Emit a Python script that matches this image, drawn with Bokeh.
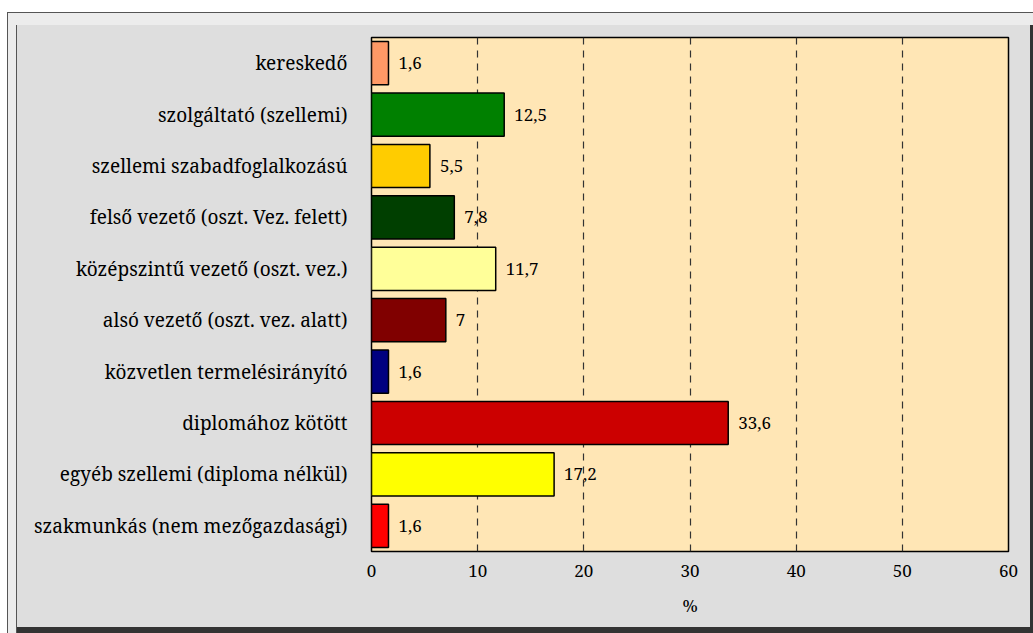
from bokeh.plotting import figure
from bokeh.models import ColumnDataSource, FactorRange, Range1d, FixedTicker
from bokeh.core.properties import value
from bokeh.embed import file_html
from bokeh.resources import INLINE

categories = [
    "kereskedő",
    "szolgáltató (szellemi)",
    "szellemi szabadfoglalkozású",
    "felső vezető (oszt. Vez. felett)",
    "középszintű vezető (oszt. vez.)",
    "alsó vezető (oszt. vez. alatt)",
    "közvetlen termelésirányító",
    "diplomához kötött",
    "egyéb szellemi (diploma nélkül)",
    "szakmunkás (nem mezőgazdasági)",
]
values = [1.6, 12.5, 5.5, 7.8, 11.7, 7.0, 1.6, 33.6, 17.2, 1.6]
colors = ["#FF9966", "#008000", "#FFCC00", "#003F00", "#FFFF99",
          "#800000", "#000080", "#CC0000", "#FFFF00", "#FF0000"]
x_ticks = [0, 10, 20, 30, 40, 50, 60]
x_label = "%"


def fmt(v):
    s = ("%g" % v)
    return s.replace(".", ",")


labels = [fmt(v) for v in values]

src = ColumnDataSource(dict(cat=categories, val=values, color=colors, label=labels))

SERIF = "Noto Serif"

p = figure(
    width=1033, height=633,
    y_range=FactorRange(*list(reversed(categories)), range_padding=0),
    x_range=Range1d(0, 60),
    output_backend="svg", toolbar_location=None,
    min_border_left=371, min_border_right=25, min_border_top=37, min_border_bottom=82,
)
p.border_fill_color = None
p.background_fill_color = "#FFE6B5"
p.outline_line_color = "black"
p.outline_line_width = 1.5
p.styles = {
    "background-color": "#DEDEDE",
    "box-shadow": ("inset 0 12px 0 #FFFFFF, inset 7px 0 0 #FFFFFF, "
                   "inset 0 13px 0 #555555, inset 8px 0 0 #555555, "
                   "inset 0 25px 0 #ECECEC, inset 16px 0 0 #ECECEC, "
                   "inset 17px 0 0 #555555, "
                   "inset 0 -6px 0 #333333, inset -3px 0 0 #333333"),
}

p.hbar(y="cat", right="val", left=0, height=0.84, fill_color="color",
       line_color="black", line_width=1.5, source=src)

p.text(x="val", y="cat", text="label", x_offset=10, text_baseline="middle",
       text_align="left", text_font=value(SERIF), text_font_size="17px",
       text_color="black", source=src)

p.xgrid.grid_line_color = "#333333"
p.xgrid.grid_line_dash = "7 6"
p.xgrid.grid_line_width = 1.2
p.ygrid.grid_line_color = None

p.xaxis.ticker = FixedTicker(ticks=x_ticks)
p.xaxis.axis_label = x_label
p.xaxis.axis_label_text_font = SERIF
p.xaxis.axis_label_text_font_size = "17px"
p.xaxis.axis_label_text_font_style = "normal"
p.xaxis.axis_label_text_color = "black"
p.xaxis.axis_label_standoff = 14
p.xaxis.major_label_text_font = SERIF
p.xaxis.major_label_text_font_size = "17px"
p.xaxis.major_label_text_color = "black"
p.xaxis.major_label_standoff = 13
p.xaxis.axis_line_color = None
p.xaxis.major_tick_line_color = None
p.xaxis.minor_tick_line_color = None
p.xaxis.major_tick_out = 0
p.xaxis.major_tick_in = 0

p.yaxis.major_label_text_font = SERIF
p.yaxis.major_label_text_font_size = "19px"
p.yaxis.major_label_text_color = "black"
p.yaxis.major_label_standoff = 24
p.yaxis.axis_line_color = None
p.yaxis.major_tick_line_color = None
p.yaxis.minor_tick_line_color = None
p.yaxis.major_tick_out = 0
p.yaxis.major_tick_in = 0

open("out.html", "w").write(file_html(p, INLINE))
